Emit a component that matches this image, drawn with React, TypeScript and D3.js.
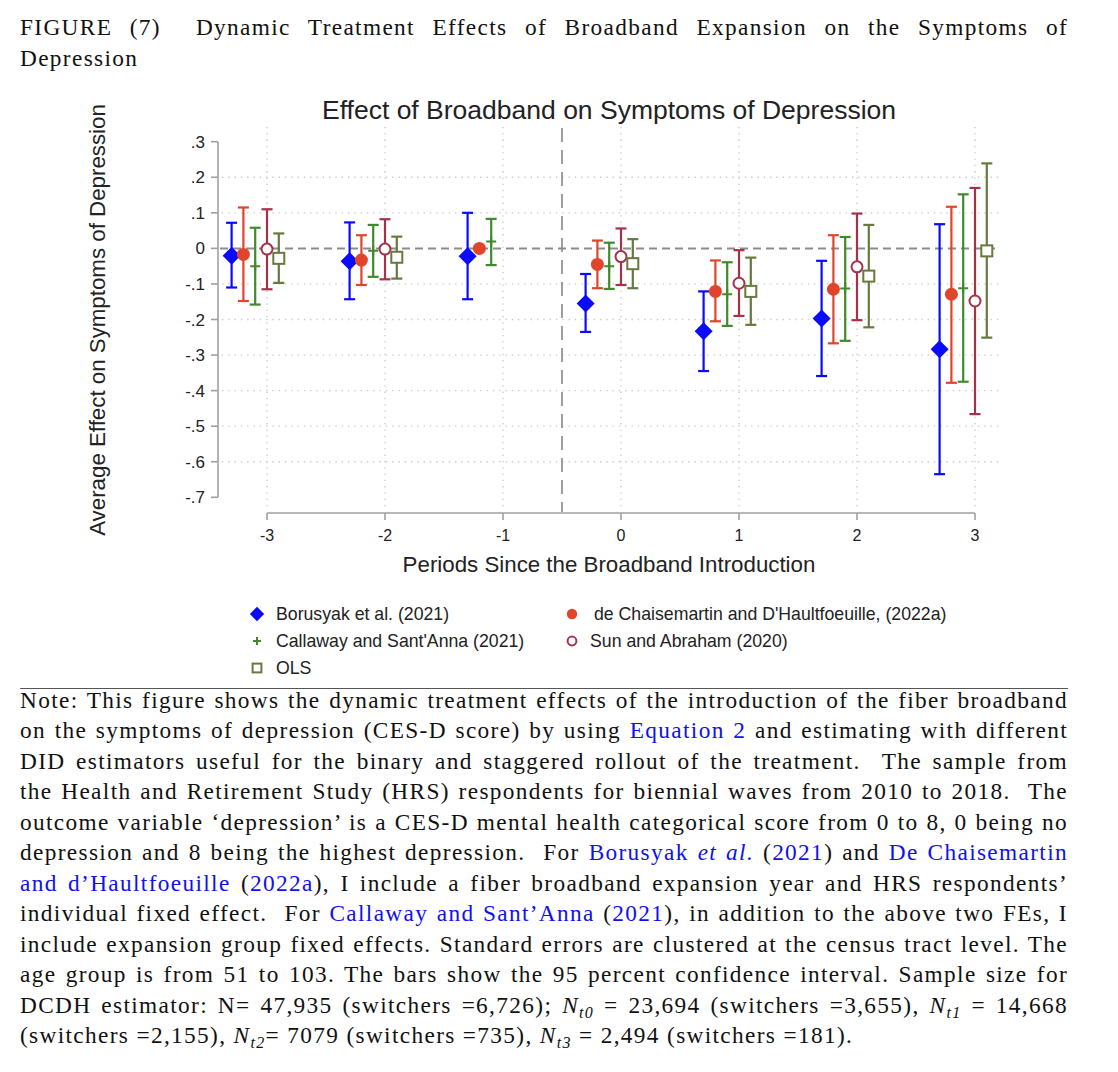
import React, { useLayoutEffect, useRef, useState } from "react";
import * as d3 from "d3";

const periods = [-3, -2, -1, 0, 1, 2, 3];

const borEst = [-0.021, -0.036, -0.022, -0.155, -0.233, -0.197, -0.284];
const borLo = [-0.11, -0.143, -0.143, -0.235, -0.345, -0.359, -0.635];
const borHi = [0.072, 0.073, 0.1, -0.072, -0.121, -0.035, 0.068];

const dchEst = [-0.017, -0.033, 0.0, -0.045, -0.121, -0.115, -0.129];
const dchLo = [-0.148, -0.103, null, -0.112, -0.205, -0.267, -0.378];
const dchHi = [0.115, 0.037, null, 0.022, -0.034, 0.037, 0.117];

const calEst = [-0.05, -0.007, 0.019, -0.05, -0.129, -0.113, -0.112];
const calLo = [-0.158, -0.08, -0.047, -0.114, -0.218, -0.26, -0.375];
const calHi = [0.058, 0.066, 0.083, 0.016, -0.039, 0.032, 0.152];

const sunEst = [-0.002, -0.002, null, -0.023, -0.098, -0.052, -0.148];
const sunLo = [-0.115, -0.087, null, -0.103, -0.19, -0.202, -0.466];
const sunHi = [0.11, 0.082, null, 0.056, -0.005, 0.098, 0.17];

const olsEst = [-0.028, -0.025, null, -0.043, -0.121, -0.078, -0.007];
const olsLo = [-0.097, -0.085, null, -0.112, -0.215, -0.222, -0.251];
const olsHi = [0.042, 0.033, null, 0.026, -0.026, 0.066, 0.239];

const yTicks = [0.3, 0.2, 0.1, 0, -0.1, -0.2, -0.3, -0.4, -0.5, -0.6, -0.7];
const yTickLabels = [".3", ".2", ".1", "0", "-.1", "-.2", "-.3", "-.4", "-.5", "-.6", "-.7"];

const seriesNames = [
  "Borusyak et al. (2021)",
  "de Chaisemartin and D'Haultfoeuille, (2022a)",
  "Callaway and Sant'Anna (2021)",
  "Sun and Abraham (2020)",
  "OLS",
];

const BLUE = "#0a0aff";
const RED = "#e0452b";
const GREEN = "#3f8a2c";
const DRED = "#a63148";
const OLIVE = "#66793f";
const LINK = "#1010f0";

type Seg = { t: string; c?: string; i?: boolean; sub?: string };

const captionLines: Seg[][] = [
  [{ t: "FIGURE (7)  Dynamic Treatment Effects of Broadband Expansion on the Symptoms of" }],
  [{ t: "Depression" }],
];

const noteLines: Seg[][] = [
  [{ t: "Note: This figure shows the dynamic treatment effects of the introduction of the fiber broadband" }],
  [
    { t: "on the symptoms of depression (CES-D score) by using " },
    { t: "Equation 2", c: LINK },
    { t: " and estimating with different" },
  ],
  [{ t: "DID estimators useful for the binary and staggered rollout of the treatment.  The sample from" }],
  [{ t: "the Health and Retirement Study (HRS) respondents for biennial waves from 2010 to 2018.  The" }],
  [{ t: "outcome variable \u2018depression\u2019 is a CES-D mental health categorical score from 0 to 8, 0 being no" }],
  [
    { t: "depression and 8 being the highest depression.  For " },
    { t: "Borusyak ", c: LINK },
    { t: "et al.", c: LINK, i: true },
    { t: " (" },
    { t: "2021", c: LINK },
    { t: ") and " },
    { t: "De Chaisemartin", c: LINK },
  ],
  [
    { t: "and d\u2019Haultfoeuille", c: LINK },
    { t: " (" },
    { t: "2022a", c: LINK },
    { t: "), I include a fiber broadband expansion year and HRS respondents\u2019" },
  ],
  [
    { t: "individual fixed effect.  For " },
    { t: "Callaway and Sant\u2019Anna", c: LINK },
    { t: " (" },
    { t: "2021", c: LINK },
    { t: "), in addition to the above two FEs, I" },
  ],
  [{ t: "include expansion group fixed effects. Standard errors are clustered at the census tract level. The" }],
  [{ t: "age group is from 51 to 103. The bars show the 95 percent confidence interval. Sample size for" }],
  [
    { t: "DCDH estimator: N= 47,935 (switchers =6,726); " },
    { t: "N", i: true, sub: "t0" },
    { t: " = 23,694 (switchers =3,655), " },
    { t: "N", i: true, sub: "t1" },
    { t: " = 14,668" },
  ],
  [
    { t: "(switchers =2,155), " },
    { t: "N", i: true, sub: "t2" },
    { t: "= 7079 (switchers =735), " },
    { t: "N", i: true, sub: "t3" },
    { t: " = 2,494 (switchers =181)." },
  ],
];

const SANS = "'Liberation Sans', Arial, sans-serif";
const SERIF = "'Liberation Serif', 'Times New Roman', serif";
const SERIF_SIZE = 23.3;
const LETTER = 1.35;
const TEXT_W = 1048;

function JustText({ segs, x, y, justify }: { segs: Seg[]; x: number; y: number; justify: boolean }) {
  const ref = useRef<SVGTextElement>(null);
  const [ws, setWs] = useState(0);
  useLayoutEffect(() => {
    if (!justify || !ref.current) return;
    const el = ref.current;
    const w = el.getBBox().width;
    const full = segs.map((s) => s.t + (s.sub || "")).join("");
    const n = (full.match(/ /g) || []).length;
    if (n > 0) setWs((TEXT_W - w) / n);
  }, [justify]);

  const children: any[] = [];
  let pendingDy = 0;
  segs.forEach((sg, k) => {
    children.push(
      <tspan
        key={k + "a"}
        fill={sg.c || "#111"}
        fontStyle={sg.i ? "italic" : "normal"}
        dy={pendingDy !== 0 ? pendingDy : undefined}
      >
        {sg.t}
      </tspan>
    );
    pendingDy = 0;
    if (sg.sub) {
      children.push(
        <tspan key={k + "b"} fontSize={16} fontStyle="italic" dy={5}>
          {sg.sub}
        </tspan>
      );
      pendingDy = -5;
    }
  });

  return (
    <text
      ref={ref}
      x={x}
      y={y}
      fontFamily={SERIF}
      fontSize={SERIF_SIZE}
      letterSpacing={LETTER}
      wordSpacing={ws}
      fill="#111"
      style={{ whiteSpace: "pre" }}
    >
      {children}
    </text>
  );
}

export default function App() {
  const x = d3.scaleLinear().domain([-3, 3]).range([267, 975]);
  const y = d3.scaleLinear().domain([-0.7, 0.3]).range([497.3, 141.7]);
  const offsets = [-0.3, -0.2, -0.1, 0, 0.1];

  const series = [
    { est: borEst, lo: borLo, hi: borHi, color: BLUE, marker: "diamond" },
    { est: dchEst, lo: dchLo, hi: dchHi, color: RED, marker: "circle" },
    { est: calEst, lo: calLo, hi: calHi, color: GREEN, marker: "plus" },
    { est: sunEst, lo: sunLo, hi: sunHi, color: DRED, marker: "ocircle" },
    { est: olsEst, lo: olsLo, hi: olsHi, color: OLIVE, marker: "square" },
  ];

  const marker = (m: string, cx: number, cy: number, color: string, key: string, s = 1) => {
    if (m === "diamond") {
      const r = 9 * s;
      return (
        <path key={key} d={`M${cx},${cy - r}L${cx + r},${cy}L${cx},${cy + r}L${cx - r},${cy}Z`} fill={color} />
      );
    }
    if (m === "circle") return <circle key={key} cx={cx} cy={cy} r={6.5 * s} fill={color} />;
    if (m === "ocircle")
      return <circle key={key} cx={cx} cy={cy} r={5.5 * s} fill="white" stroke={color} strokeWidth={2} />;
    if (m === "square") {
      const h = 5.5 * s;
      return (
        <rect key={key} x={cx - h} y={cy - h} width={2 * h} height={2 * h} fill="white" stroke={color} strokeWidth={2} />
      );
    }
    const h = 5 * s;
    return (
      <path key={key} d={`M${cx - h},${cy}H${cx + h}M${cx},${cy - h}V${cy + h}`} stroke={color} strokeWidth={2} fill="none" />
    );
  };

  const gridY = yTicks.filter((v) => v !== 0.3 && v !== -0.7 && v !== 0);
  const noteTop = 708;
  const noteStep = 30.45;

  return (
    <svg
      width={1118}
      height={1072}
      style={{ position: "absolute", left: 0, top: 0, background: "white" }}
      xmlns="http://www.w3.org/2000/svg"
    >
      <rect x={0} y={0} width={1118} height={1072} fill="white" />
      {/* Caption */}
      <JustText segs={captionLines[0]} x={20} y={35} justify={true} />
      <JustText segs={captionLines[1]} x={20} y={66} justify={false} />

      {/* Chart title */}
      <text x={609} y={119} textAnchor="middle" fontFamily={SANS} fontSize={26.5} fill="#222">
        Effect of Broadband on Symptoms of Depression
      </text>

      {/* gridlines */}
      {gridY.map((v) => (
        <line key={"gy" + v} x1={222} x2={1000} y1={y(v)} y2={y(v)} stroke="#c8c8c8" strokeWidth={1.3} strokeDasharray="1.3,5" />
      ))}
      {periods.map((p) => (
        <line key={"gx" + p} x1={x(p)} x2={x(p)} y1={127} y2={510} stroke="#c8c8c8" strokeWidth={1.3} strokeDasharray="1.3,5" />
      ))}

      {/* reference lines */}
      <line x1={220} x2={1000} y1={y(0)} y2={y(0)} stroke="#8c8c8c" strokeWidth={2} strokeDasharray="8,5" />
      <line x1={x(-0.5)} x2={x(-0.5)} y1={128} y2={512} stroke="#888" strokeWidth={1.6} strokeDasharray="14,8" />

      {/* y axis */}
      <line x1={218} x2={218} y1={y(0.3)} y2={y(-0.7)} stroke="#a0a0a0" strokeWidth={1.6} />
      {yTicks.map((v, i) => (
        <g key={"yt" + i}>
          <line x1={211} x2={218} y1={y(v)} y2={y(v)} stroke="#a0a0a0" strokeWidth={1.6} />
          <text x={205} y={y(v) + 6} textAnchor="end" fontFamily={SANS} fontSize={17} fill="#222">
            {yTickLabels[i]}
          </text>
        </g>
      ))}
      <text
        transform={`translate(105,320) rotate(-90)`}
        textAnchor="middle"
        fontFamily={SANS}
        fontSize={22.3}
        fill="#222"
      >
        Average Effect on Symptoms of Depression
      </text>

      {/* x axis */}
      <line x1={x(-3)} x2={x(3)} y1={513} y2={513} stroke="#a0a0a0" strokeWidth={1.6} />
      {periods.map((p) => (
        <g key={"xt" + p}>
          <line x1={x(p)} x2={x(p)} y1={513} y2={520} stroke="#a0a0a0" strokeWidth={1.6} />
          <text x={x(p)} y={541} textAnchor="middle" fontFamily={SANS} fontSize={16} fill="#222">
            {p}
          </text>
        </g>
      ))}
      <text x={609} y={572} textAnchor="middle" fontFamily={SANS} fontSize={22.3} fill="#222">
        Periods Since the Broadband Introduction
      </text>

      {/* error bars and markers */}
      {series.map((s, si) => (
        <g key={"s" + si}>
          {periods.map((p, pi) => {
            const cx = x(p + offsets[si]);
            const lo = s.lo[pi];
            const hi = s.hi[pi];
            const est = s.est[pi];
            return (
              <g key={"p" + pi}>
                {lo !== null && hi !== null && (
                  <g stroke={s.color} strokeWidth={2.2}>
                    <line x1={cx} x2={cx} y1={y(hi)} y2={y(lo)} />
                    <line x1={cx - 5.5} x2={cx + 5.5} y1={y(hi)} y2={y(hi)} />
                    <line x1={cx - 5.5} x2={cx + 5.5} y1={y(lo)} y2={y(lo)} />
                  </g>
                )}
                {est !== null && marker(s.marker, cx, y(est), s.color, "m" + pi)}
              </g>
            );
          })}
        </g>
      ))}

      {/* legend */}
      {seriesNames.map((name, i) => {
        const col = i % 2;
        const row = Math.floor(i / 2);
        const sx = col === 0 ? 257 : 572;
        const tx = col === 0 ? 276 : i === 1 ? 594 : 590;
        const cy = 614 + row * 27;
        return (
          <g key={"lg" + i}>
            {marker(series[i].marker, sx, cy, series[i].color, "lm" + i, 0.8)}
            <text x={tx} y={cy + 6} fontFamily={SANS} fontSize={17.7} fill="#222">
              {name}
            </text>
          </g>
        );
      })}

      {/* separator */}
      <line x1={20} x2={1068} y1={688.5} y2={688.5} stroke="#555" strokeWidth={1.2} />

      {/* note */}
      {noteLines.map((segs, li) => (
        <JustText
          key={"n" + li}
          segs={segs}
          x={20}
          y={noteTop + li * noteStep}
          justify={li !== noteLines.length - 1}
        />
      ))}
    </svg>
  );
}
